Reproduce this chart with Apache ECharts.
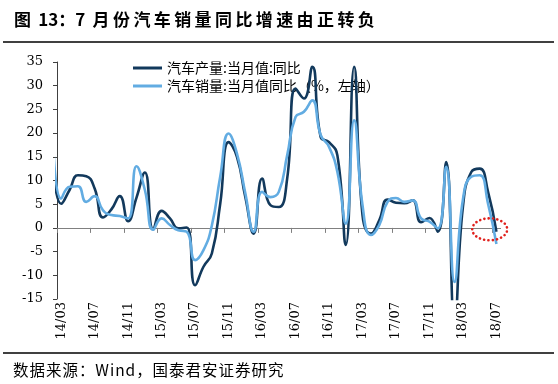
<!DOCTYPE html>
<html><head><meta charset="utf-8">
<script src="https://cdn.jsdelivr.net/npm/echarts@6/dist/echarts.min.js"></script>
<style>html,body{margin:0;padding:0;background:#fff}#c{width:558px;height:384px}</style>
</head><body><div id="c"></div>
<script>
// month index: -1 = 2014-02 (partly visible at left edge), 0 = 2014-03 ... 52 = 2018-07
const monthIndex = [-1,0,1,2,3,4,5,6,7,8,9,10,11,12,13,14,15,16,17,18,19,20,21,22,23,24,25,26,27,28,29,30,31,32,33,34,35,36,37,38,39,40,41,42,43,44,45,46,47,48,49,50,51,52];
const production = [14,5.1,8.0,11.1,10.9,8.3,2.2,3.9,6.7,1.4,6.4,11.7,-0.3,3.6,2.0,-0.1,0.1,-12.1,-8.2,-5.4,5.1,18.1,15.0,6.5,-1.2,10.4,4.8,4.4,10.4,29.4,27.3,34.0,19.2,18.1,15.3,-3.6,34.0,2.7,-1.2,1.6,6.0,5.3,5.2,5.8,1.2,2.1,-0.8,13.9,-19.9,4.5,11.8,12.5,7.6,-0.8];
const sales = [20,6.2,8.7,8.8,5.5,6.7,3.7,2.7,2.5,2.0,13.0,8.0,-0.4,2.0,0.6,-0.5,-0.8,-6.8,-4.7,0.5,10.8,19.9,15.7,7.3,-0.8,7.6,6.5,7.6,15.3,23.4,24.5,26.9,19.6,17.1,11.8,0.9,22.7,4.8,-1.5,0.6,5.5,6.3,5.5,5.8,2.0,1.3,-0.1,12.9,-11.4,6.0,10.8,11.1,5.1,-3.4];
const tickLabels = ['14/03','14/07','14/11','15/03','15/07','15/11','16/03','16/07','16/11','17/03','17/07','17/11','18/03','18/07'];
const seriesNames = ['汽车产量:当月值:同比','汽车销量:当月值同比（%，左轴）'];
const titleHead = '图 \u200913：7 \u2009';
const titleBody = '月份汽车销量同比增速由正转负';
const sourceText = '数据来源：Wind，国泰君安证券研究';

const spaced = (s, sp) => s.split('').join(sp);
const labelPos = tickLabels.map((_, i) => i * 4);
const tickPos = tickLabels.map((_, i) => i * 4 - 0.5);
const toPairs = arr => arr.map((v, i) => [monthIndex[i], v]);

const chart = echarts.init(document.getElementById('c'), null, {renderer: 'canvas'});
const DARK = '#12395c', LIGHT = '#62ace2';
const serif = 'DejaVu Serif';
chart.setOption({
  animation: false,
  backgroundColor: '#fff',
  grid: {left: 57, top: 62, right: 57.4, bottom: 85},
  legend: {
    orient: 'vertical', left: 128, top: 56, z: 0,
    itemWidth: 29, itemHeight: 3, itemGap: 4, icon: 'rect',
    textStyle: {fontFamily: 'Noto Sans CJK SC', fontSize: 14, color: '#000'},
    data: seriesNames
  },
  xAxis: {
    type: 'value', min: -0.5, max: 52.5,
    splitLine: {show: false},
    axisLine: {onZero: true, lineStyle: {color: '#808080', width: 1}},
    axisTick: {show: true, customValues: tickPos, length: 5, lineStyle: {color: '#808080'}},
    axisLabel: {
      customValues: labelPos, rotate: 90, margin: 3,
      fontFamily: serif, fontSize: 13, color: '#000',
      formatter: v => tickLabels[Math.round(v / 4)]
    }
  },
  yAxis: {
    type: 'value', min: -15, max: 35, interval: 5,
    splitLine: {show: false},
    axisLine: {show: true, onZero: false, lineStyle: {color: '#404040'}},
    axisTick: {show: true, length: 4, lineStyle: {color: '#404040'}},
    axisLabel: {margin: 14, fontFamily: serif, fontSize: 13, color: '#000'}
  },
  series: [
    {name: seriesNames[0], type: 'line', data: toPairs(production), smooth: 0.5, symbol: 'none',
     clip: true, lineStyle: {color: DARK, width: 2.6}, itemStyle: {color: DARK}},
    {name: seriesNames[1], type: 'line', data: toPairs(sales), smooth: 0.5, symbol: 'none',
     clip: true, lineStyle: {color: LIGHT, width: 2.6}, itemStyle: {color: LIGHT}}
  ]
});

const c = chart.convertToPixel({xAxisIndex: 0, yAxisIndex: 0}, [51.2, -0.3]);
chart.setOption({
  graphic: [
    {type: 'text', left: 14, top: 11, style: {text: titleHead + spaced(titleBody, '\u2009'), font: 'bold 17px "Noto Sans CJK SC"', fill: '#000'}},
    {type: 'line', shape: {x1: 3, y1: 42, x2: 554, y2: 42}, style: {stroke: '#000', lineWidth: 1.5}},
    {type: 'line', shape: {x1: 3, y1: 353, x2: 554, y2: 353}, style: {stroke: '#000', lineWidth: 1.5}},
    {type: 'text', left: 13, top: 362, style: {text: spaced(sourceText, '\u200A'), font: '15.5px "Noto Sans CJK SC"', fill: '#000'}},
    {type: 'ellipse', shape: {cx: c[0], cy: c[1], rx: 17.5, ry: 11},
     style: {fill: null, stroke: '#e0201c', lineWidth: 2.6, lineDash: [0.1, 4.2], lineCap: 'round'}, z: 100}
  ]
});
</script></body></html>
